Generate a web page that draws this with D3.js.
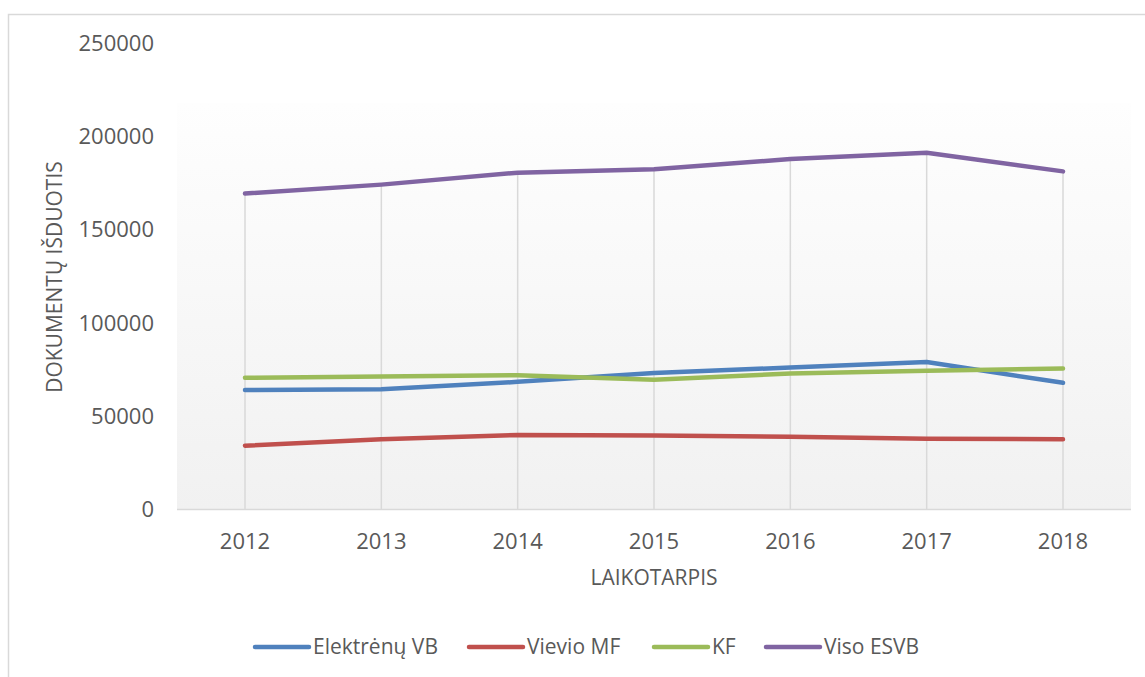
<!DOCTYPE html>
<html><head><meta charset="utf-8">
<script src="https://cdn.jsdelivr.net/npm/d3@7"></script>
<style>body{margin:0;background:#fff}svg{display:block}</style>
</head><body>
<svg id="c" width="1145" height="677"></svg>
<script>
const years = ["2012","2013","2014","2015","2016","2017","2018"];
const elektrenuVB = [64000,64500,68400,73100,76100,79000,67900];
const vievioMF = [34200,37700,39900,39700,39000,37900,37700];
const kf = [70600,71300,72000,69500,72900,74300,75600];
const visoESVB = [169300,174100,180500,182300,187800,191200,181200];
const yTicks = [0,50000,100000,150000,200000,250000];
const seriesNames = ["Elektrėnų VB","Vievio MF","KF","Viso ESVB"];
const seriesColors = ["#4f81bd","#c0504d","#9bbb59","#8064a2"];
const seriesData = [elektrenuVB, vievioMF, kf, visoESVB];

const svg = d3.select("#c");
const font = "'Open Sans', sans-serif";
const txt = "#595959";

svg.append("rect").attr("x",8.5).attr("y",14.5).attr("width",1150).attr("height",700)
  .attr("fill","#fff").attr("stroke","#d9d9d9").attr("stroke-width",1.5);

const x = d3.scalePoint().domain(years).range([245,1063]);
const y = d3.scaleLinear().domain([0,250000]).range([509.5,43]);

const defs = svg.append("defs");
const g = defs.append("linearGradient").attr("id","bg").attr("x1",0).attr("y1",0).attr("x2",0).attr("y2",1);
g.append("stop").attr("offset","0%").attr("stop-color","#fefefe");
g.append("stop").attr("offset","100%").attr("stop-color","#f1f1f1");
svg.append("rect").attr("x",177).attr("y",103).attr("width",954).attr("height",509.5-103).attr("fill","url(#bg)");

// drop lines
svg.append("g").selectAll("line").data(years).join("line")
  .attr("x1",d=>x(d)).attr("x2",d=>x(d))
  .attr("y1",(d,i)=>y(d3.max(seriesData,s=>s[i]))).attr("y2",y(0))
  .attr("stroke","#d9d9d9").attr("stroke-width",1.5);

// axis line
svg.append("line").attr("x1",177).attr("x2",1131).attr("y1",y(0)).attr("y2",y(0))
  .attr("stroke","#d9d9d9").attr("stroke-width",1.5);

// y ticks
svg.append("g").selectAll("text").data(yTicks).join("text")
  .attr("x",154).attr("y",d=>y(d)).attr("dy","0.35em").attr("text-anchor","end")
  .attr("font-family",font).attr("font-size",22).attr("fill",txt).text(d=>d);

// x ticks
svg.append("g").selectAll("text").data(years).join("text")
  .attr("x",d=>x(d)).attr("y",541).attr("dy","0.35em").attr("text-anchor","middle")
  .attr("font-family",font).attr("font-size",22).attr("fill",txt).text(d=>d);

// axis titles
svg.append("text").attr("x",654).attr("y",578).attr("dy","0.35em").attr("text-anchor","middle")
  .attr("font-family",font).attr("font-size",21).attr("fill",txt).text("LAIKOTARPIS");
svg.append("text").attr("transform","translate(55,277) rotate(-90)").attr("dy","0.35em")
  .attr("text-anchor","middle").attr("font-family",font).attr("font-size",21).attr("fill",txt)
  .text("DOKUMENTŲ IŠDUOTIS");

// lines
const line = d3.line().x((d,i)=>x(years[i])).y(d=>y(d));
svg.append("g").selectAll("path").data(seriesData).join("path")
  .attr("d",d=>line(d)).attr("fill","none")
  .attr("stroke",(d,i)=>seriesColors[i]).attr("stroke-width",4.5)
  .attr("stroke-linecap","round").attr("stroke-linejoin","round");

// legend
const legX = [255,469,654,766];
const lg = svg.append("g").selectAll("g").data(seriesNames).join("g")
  .attr("transform",(d,i)=>`translate(${legX[i]},647)`);
lg.append("line").attr("x1",0).attr("x2",54).attr("y1",0).attr("y2",0)
  .attr("stroke",(d,i)=>seriesColors[i]).attr("stroke-width",4.5).attr("stroke-linecap","round");
lg.append("text").attr("x",58).attr("y",0).attr("dy","0.35em")
  .attr("font-family",font).attr("font-size",21).attr("fill",txt).text(d=>d);
</script>
</body></html>
